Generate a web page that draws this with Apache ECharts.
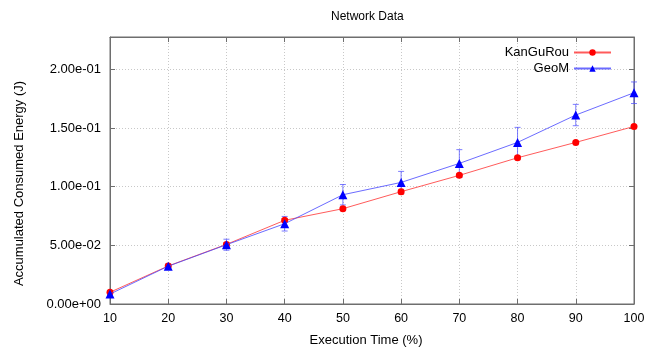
<!DOCTYPE html>
<html>
<head>
<meta charset="utf-8">
<script src="https://cdn.jsdelivr.net/npm/echarts@6/dist/echarts.min.js"></script>
<style>
  html, body { margin: 0; padding: 0; background: #fff; }
  #main { width: 662px; height: 352px; }
</style>
</head>
<body>
<div id="main"></div>
<script>
var xValues = [10, 20, 30, 40, 50, 60, 70, 80, 90, 100];
var kangurou = [0.0100, 0.0324, 0.0508, 0.0713, 0.0812, 0.0957, 0.1096, 0.1246, 0.1377, 0.1513];
var kangurouErr = [0.0010, 0.0010, 0.0015, 0.0015, 0.0015, 0.0020, 0.0015, 0.0015, 0.0010, 0.0010];
var geom = [0.0085, 0.0322, 0.0505, 0.0684, 0.0931, 0.1036, 0.1198, 0.1377, 0.1610, 0.1800];
var geomErr = [0.0015, 0.0020, 0.0047, 0.0062, 0.0087, 0.0094, 0.0117, 0.0128, 0.0091, 0.0092];
var yTicks = [0, 0.05, 0.1, 0.15, 0.2];

var font = 'Liberation Sans, Arial, sans-serif';

// gnuplot style label: 2.00e-01
function expLabel(v) {
    var hit = yTicks.some(function (t) { return Math.abs(t - v) < 1e-9; });
    if (!hit) return '';
    var parts = v.toExponential(2).split('e');
    var sign = parts[1][0];
    var num = parts[1].slice(1);
    if (num.length < 2) num = '0' + num;
    return parts[0] + 'e' + sign + num;
}

function pairs(ys) {
    return xValues.map(function (x, i) { return [x, ys[i]]; });
}

function errData(ys, errs) {
    return xValues.map(function (x, i) { return [x, ys[i] - errs[i], ys[i] + errs[i]]; });
}

function errRender(color) {
    return function (params, api) {
        var lo = api.coord([api.value(0), api.value(1)]);
        var hi = api.coord([api.value(0), api.value(2)]);
        var w = 3;
        var st = { stroke: color, lineWidth: 1 };
        return {
            type: 'group',
            children: [
                { type: 'line', shape: { x1: lo[0], y1: lo[1], x2: hi[0], y2: hi[1] }, style: st },
                { type: 'line', shape: { x1: lo[0] - w, y1: lo[1], x2: lo[0] + w, y2: lo[1] }, style: st },
                { type: 'line', shape: { x1: hi[0] - w, y1: hi[1], x2: hi[0] + w, y2: hi[1] }, style: st }
            ]
        };
    };
}

var axisColor = '#6e6e6e';
var gridLine = { show: true, lineStyle: { color: '#c8c8c8', type: [1, 2], width: 1 } };
var tick = { show: true, inside: true, length: 5, lineStyle: { color: axisColor } };

var option = {
    animation: false,
    backgroundColor: '#fff',
    title: {
        text: 'Network Data',
        left: 326,
        top: 6,
        textStyle: { fontFamily: font, fontSize: 12, fontWeight: 'normal', color: '#000' }
    },
    legend: {
        orient: 'vertical',
        right: 45,
        top: 40,
        align: 'right',
        itemGap: 1,
        itemWidth: 37,
        itemHeight: 8,
        textStyle: { fontFamily: font, fontSize: 13, color: '#000', lineHeight: 15 },
        data: ['KanGuRou', 'GeoM']
    },
    grid: { left: 110, right: 28, top: 37, bottom: 48, show: true, borderColor: axisColor, borderWidth: 1 },
    xAxis: [{
        type: 'value',
        min: 10,
        max: 100,
        interval: 10,
        name: 'Execution Time (%)',
        nameLocation: 'middle',
        nameGap: 30,
        nameTextStyle: { fontFamily: font, fontSize: 13, color: '#000', padding: [0, 12, 0, 0] },
        axisLine: { show: true, onZero: false, lineStyle: { color: axisColor } },
        axisTick: tick,
        axisLabel: { fontFamily: font, fontSize: 12.5, color: '#000', margin: 8 },
        splitLine: gridLine
    }, {
        type: 'value',
        position: 'top',
        min: 10,
        max: 100,
        interval: 10,
        axisLine: { show: true, onZero: false, lineStyle: { color: axisColor } },
        axisTick: tick,
        axisLabel: { show: false },
        splitLine: { show: false }
    }],
    yAxis: [{
        type: 'value',
        min: 0,
        max: 0.2275,
        interval: 0.05,
        name: 'Accumulated Consumed Energy (J)',
        nameLocation: 'middle',
        nameGap: 84,
        nameTextStyle: { fontFamily: font, fontSize: 13, color: '#000', padding: [0, 26, 0, 0] },
        axisLine: { show: true, lineStyle: { color: axisColor } },
        axisTick: tick,
        axisLabel: { fontFamily: font, fontSize: 13, color: '#000', margin: 9, formatter: expLabel },
        splitLine: gridLine
    }, {
        type: 'value',
        position: 'right',
        min: 0,
        max: 0.2275,
        interval: 0.05,
        axisLine: { show: true, onZero: false, lineStyle: { color: axisColor } },
        axisTick: tick,
        axisLabel: { show: false },
        splitLine: { show: false }
    }],
    series: [{
        name: 'KanGuRou',
        type: 'line',
        data: pairs(kangurou),
        symbol: 'circle',
        symbolSize: 7,
        lineStyle: { color: 'rgba(255,50,50,0.8)', width: 1 },
        itemStyle: { color: '#ff0000' },
        z: 3
    }, {
        name: 'GeoM',
        type: 'line',
        data: pairs(geom),
        symbol: 'triangle',
        symbolSize: 9,
        lineStyle: { color: 'rgba(70,70,255,0.8)', width: 1 },
        itemStyle: { color: '#0000ff' },
        z: 4
    }, {
        name: 'KanGuRou error',
        type: 'custom',
        xAxisIndex: 1,
        yAxisIndex: 1,
        renderItem: errRender('rgba(255,60,60,0.8)'),
        data: errData(kangurou, kangurouErr),
        z: 2
    }, {
        name: 'GeoM error',
        type: 'custom',
        xAxisIndex: 1,
        yAxisIndex: 1,
        renderItem: errRender('rgba(80,80,255,0.75)'),
        data: errData(geom, geomErr),
        z: 2
    }]
};

var chart = echarts.init(document.getElementById('main'));
chart.setOption(option);
</script>
</body>
</html>
